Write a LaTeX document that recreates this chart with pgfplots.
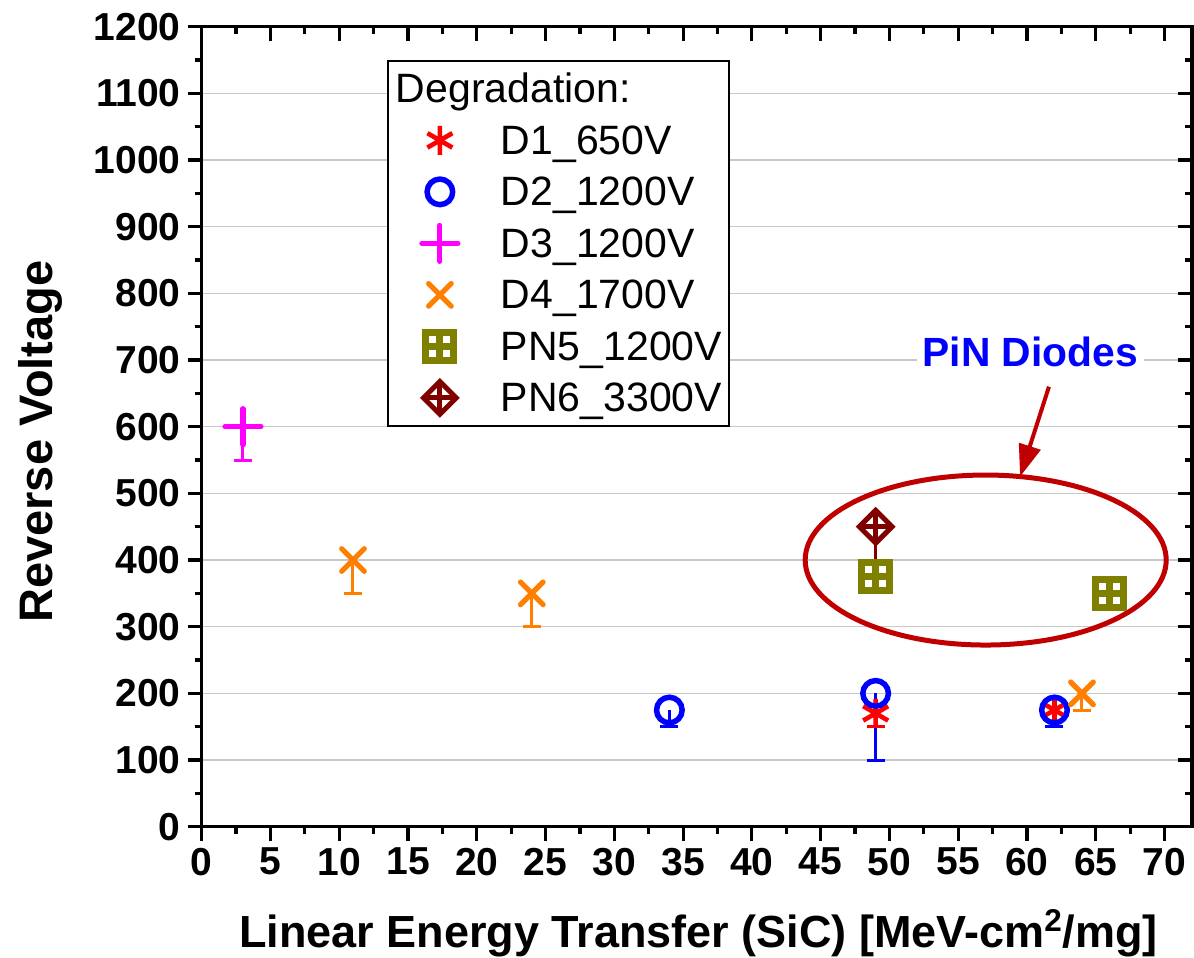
\documentclass[border=0pt]{standalone}
\usepackage{fontspec}
\setmainfont{Liberation Sans}
\usepackage{pgfplots}
\pgfplotsset{compat=1.18}
\usetikzlibrary{arrows.meta,calc}

\definecolor{d1red}{RGB}{255,0,0}
\definecolor{d2blue}{RGB}{0,0,255}
\definecolor{d3mag}{RGB}{255,0,255}
\definecolor{d4orange}{RGB}{255,128,0}
\definecolor{pn5olive}{RGB}{128,128,0}
\definecolor{pn6maroon}{RGB}{128,0,0}
\definecolor{ringred}{RGB}{192,0,0}
\definecolor{gridgray}{RGB}{200,200,200}

% square with an inner cross (filled, then stroked)
\pgfdeclareplotmark{boxplus}{%
  \pgfpathrectangle{\pgfpoint{-\pgfplotmarksize}{-\pgfplotmarksize}}{\pgfpoint{2\pgfplotmarksize}{2\pgfplotmarksize}}%
  \pgfusepathqfillstroke
  \pgfpathmoveto{\pgfpoint{-\pgfplotmarksize}{0pt}}%
  \pgfpathlineto{\pgfpoint{\pgfplotmarksize}{0pt}}%
  \pgfpathmoveto{\pgfpoint{0pt}{-\pgfplotmarksize}}%
  \pgfpathlineto{\pgfpoint{0pt}{\pgfplotmarksize}}%
  \pgfusepathqstroke}
% diamond with an inner cross
\pgfdeclareplotmark{diamondplus}{%
  \pgfpathmoveto{\pgfpoint{0pt}{\pgfplotmarksize}}%
  \pgfpathlineto{\pgfpoint{\pgfplotmarksize}{0pt}}%
  \pgfpathlineto{\pgfpoint{0pt}{-\pgfplotmarksize}}%
  \pgfpathlineto{\pgfpoint{-\pgfplotmarksize}{0pt}}%
  \pgfpathclose
  \pgfusepathqfillstroke
  \pgfpathmoveto{\pgfpoint{-\pgfplotmarksize}{0pt}}%
  \pgfpathlineto{\pgfpoint{\pgfplotmarksize}{0pt}}%
  \pgfpathmoveto{\pgfpoint{0pt}{-\pgfplotmarksize}}%
  \pgfpathlineto{\pgfpoint{0pt}{\pgfplotmarksize}}%
  \pgfusepathqstroke}

\pgfplotsset{
  frame/.style={
    scale only axis, width=495.15pt, height=400pt,
    xmin=0, xmax=72, ymin=0, ymax=1200,
    xtick={0,5,...,70}, ytick={0,100,...,1200},
    minor x tick num=1, minor y tick num=1,
    major tick length=7pt, minor tick length=3.5pt,
    axis line style={line width=1.6pt},
    every tick/.style={black, line width=1.6pt},
  },
  dmark/.style={
    only marks,
    legend image code/.code={%
      \path[draw=none, fill=none] (0pt,-2pt) rectangle (52pt,2pt);
      \draw[##1] plot coordinates {(26pt,0pt)};},
    error bars/y dir=minus, error bars/y explicit,
    error bars/error mark=|,
    error bars/error bar style={line width=1.5pt},
    error bars/error mark options={line width=1.5pt, mark size=4.5pt},
  },
}

\begin{document}
\begin{tikzpicture}
\begin{axis}[frame, name=main,
  xtick pos=left, ytick pos=left, tick align=outside,
  ymajorgrids, grid style={gridgray, line width=0.7pt},
  /pgf/number format/assume math mode=true,
  /pgf/number format/1000 sep={},
  ticklabel style={font=\fontsize{19.5}{23}\selectfont\bfseries},
  xlabel={Linear Energy Transfer (SiC) [MeV-cm\textsuperscript{2}/mg]},
  ylabel={Reverse Voltage},
  xlabel style={font=\fontsize{22.5}{27}\selectfont\bfseries,
    at={(axis description cs:0.5017,-0.1504)}, anchor=base},
  ylabel style={font=\fontsize{23.5}{28}\selectfont\bfseries,
    at={(axis description cs:-0.1633,0.4815)}, anchor=center},
  legend style={
    at={(axis description cs:0.1871,0.9584)}, anchor=north west,
    draw=black, line width=0.9pt, fill=white,
    inner xsep=0pt, inner ysep=2pt,
    row sep=1.75pt, column sep=4.5pt,
    font=\fontsize{20.5}{24}\selectfont,
    nodes={inner sep=0pt, text height=19pt, text depth=5pt},
  },
  legend cell align=left,
]
\addlegendimage{empty legend}
\addlegendentry{\hspace*{-52.5pt}Degradation:}

\addplot[dmark, color=d1red, mark=asterisk,
  mark options={line width=2.3pt, mark size=7.2pt}]
  coordinates {(49,170) -= (0,20) (62,175) -= (0,25)};
\addlegendentry{D1\_650V}

\addplot[dmark, color=d2blue, mark=o,
  mark options={line width=2.75pt, mark size=6.4pt, fill=white}]
  coordinates {(34,175) -= (0,25) (49,200) -= (0,100) (62,175) -= (0,25)};
\addlegendentry{D2\_1200V}

\addplot[dmark, color=d3mag, mark=+,
  mark options={line width=2.6pt, mark size=9pt, line cap=round}]
  coordinates {(3,600) -= (0,50)};
\addlegendentry{D3\_1200V}

\addplot[dmark, color=d4orange, mark=x,
  mark options={line width=2.6pt, mark size=8pt, line cap=round}]
  coordinates {(11,400) -= (0,50) (24,350) -= (0,50) (64,200) -= (0,25)};
\addlegendentry{D4\_1700V}

\addplot[dmark, color=pn5olive, mark=boxplus,
  mark options={line width=3.5pt, mark size=7pt, fill=white}]
  coordinates {(49,375) -= (0,0) (66,350) -= (0,0)};
\addlegendentry{PN5\_1200V\hspace*{3.5pt}}

\addplot[dmark, color=pn6maroon, mark=diamondplus,
  mark options={line width=2.5pt, mark size=8.2pt, fill=white}]
  coordinates {(49,450) -= (0,50)};
\addlegendentry{PN6\_3300V}

% highlight of the PiN diode results
\draw[ringred, line width=2.5pt] (axis cs:57,400) ellipse [x radius=90.25pt, y radius=42.5pt];
\draw[ringred, line width=2pt, -{Triangle[length=16pt,width=11pt]}]
  (axis cs:61.6,660) -- (axis cs:59.5,525);
\node[fill=white, text=d2blue, inner sep=3pt, anchor=base,
  font=\fontsize{20.4}{24}\selectfont\bfseries] at (axis cs:60.24,689.6) {PiN Diodes};
\end{axis}

% mirrored ticks pointing inward on the top and right edges
\begin{axis}[frame,
  xtick pos=right, ytick pos=right, tick align=inside,
  xticklabels={}, yticklabels={},
]
\end{axis}

\pgfresetboundingbox
\path ($(main.south west)+(-100.85pt,-65.15pt)$) rectangle ($(main.north east)+(1pt,13.35pt)$);
\end{tikzpicture}
\end{document}
